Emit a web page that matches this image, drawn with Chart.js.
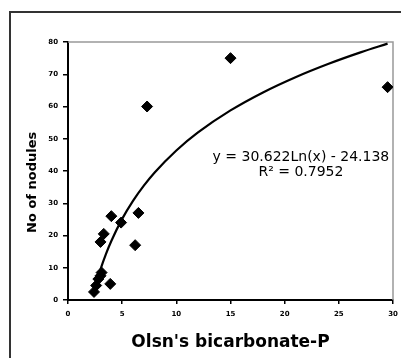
<!DOCTYPE html>
<html>
<head>
<meta charset="utf-8">
<script src="https://cdn.jsdelivr.net/npm/chart.js@4"></script>
<style>
  html, body { margin: 0; padding: 0; background: #fff; }
  canvas { display: block; }
</style>
</head>
<body>
<canvas id="chart" width="401" height="358"></canvas>
<script>
// measured points (Olsen P vs nodule count)
const olsenP = [2.4, 2.6, 2.8, 3.0, 3.1, 3.9, 3.0, 3.3, 6.2, 4.9, 4.0, 6.5, 7.3, 15.0, 29.5];
const nodules = [2.5, 4.5, 6.5, 7.5, 8.5, 5, 18, 20.5, 17, 24, 26, 27, 60, 75, 66];

// log trendline
const trendX = [2.3, 2.5, 3, 3.5, 4, 5, 6, 7, 8, 10, 12, 15, 18, 21, 24, 27, 29.5];
const trendY = [1.37, 3.92, 9.5, 14.23, 18.31, 25.15, 30.73, 35.45, 39.54, 46.37, 51.96, 58.79, 64.37, 69.09, 73.18, 76.79, 79.5];

const xTicks = [0, 5, 10, 15, 20, 25, 30];
const yTicks = [0, 10, 20, 30, 40, 50, 60, 70, 80];

const equationLines = ["y = 30.622Ln(x) - 24.138", "R\u00b2 = 0.7952"];
const equationAt = { x: 21.5, y: [44.3, 39.6] };

const tickFont = { family: "DejaVu Sans", size: 7, weight: "bold" };

// outer chart frame + grey plot-area border (top/right)
const framePlugin = {
  id: "frame",
  beforeDatasetsDraw(chart) {
    const { ctx, chartArea } = chart;
    ctx.save();
    ctx.strokeStyle = "#333";
    ctx.lineWidth = 2;
    ctx.beginPath();
    ctx.moveTo(10, chart.height);
    ctx.lineTo(10, 12);
    ctx.lineTo(chart.width, 12);
    ctx.stroke();

    ctx.strokeStyle = "#999";
    ctx.lineWidth = 1.5;
    ctx.beginPath();
    ctx.moveTo(chartArea.left, chartArea.top);
    ctx.lineTo(chartArea.right, chartArea.top);
    ctx.lineTo(chartArea.right, chartArea.bottom);
    ctx.stroke();
    ctx.restore();
  }
};

const equationPlugin = {
  id: "equation",
  afterDatasetsDraw(chart) {
    const { ctx, scales } = chart;
    ctx.save();
    ctx.font = "14px 'DejaVu Sans'";
    ctx.fillStyle = "#000";
    ctx.textAlign = "center";
    ctx.textBaseline = "middle";
    equationLines.forEach((line, i) => {
      ctx.fillText(line, scales.x.getPixelForValue(equationAt.x), scales.y.getPixelForValue(equationAt.y[i]));
    });
    ctx.restore();
  }
};

new Chart(document.getElementById("chart"), {
  type: "scatter",
  data: {
    datasets: [
      {
        label: "Nodules",
        data: olsenP.map((x, i) => ({ x: x, y: nodules[i] })),
        pointStyle: "rectRot",
        pointRadius: 5.5,
        backgroundColor: "#000",
        borderColor: "#000",
        borderWidth: 1,
      },
      {
        label: "Log trend",
        data: trendX.map((x, i) => ({ x: x, y: trendY[i] })),
        showLine: true,
        pointRadius: 0,
        borderColor: "#000",
        borderWidth: 2.2,
        cubicInterpolationMode: "monotone",
      },
    ],
  },
  options: {
    responsive: false,
    animation: false,
    layout: { padding: { top: 42, right: 8, left: 0, bottom: 0 } },
    plugins: {
      legend: { display: false },
      tooltip: { enabled: false },
    },
    scales: {
      x: {
        type: "linear",
        min: 0,
        max: 30,
        afterBuildTicks: (s) => { s.ticks = xTicks.map((v) => ({ value: v })); },
        afterFit: (s) => {
          s.height = 58;
          s.paddingLeft = 0;
          s.paddingRight = 0;
        },
        border: { display: true, color: "#000", width: 2 },
        grid: { drawOnChartArea: false, drawTicks: true, tickLength: 4, color: "#000", lineWidth: 1.5 },
        ticks: { color: "#000", font: tickFont, padding: 6, maxRotation: 0 },
        title: {
          display: true,
          text: "Olsn's bicarbonate-P",
          color: "#000",
          font: { family: "DejaVu Sans", size: 17, weight: "bold" },
          padding: { top: 0, bottom: 5 },
        },
      },
      y: {
        type: "linear",
        min: 0,
        max: 80,
        afterBuildTicks: (s) => { s.ticks = yTicks.map((v) => ({ value: v })); },
        afterFit: (s) => {
          s.width = 68;
          s.paddingTop = 0;
          s.paddingBottom = 0;
        },
        border: { display: true, color: "#000", width: 2 },
        grid: { drawOnChartArea: false, drawTicks: true, tickLength: 5, color: "#000", lineWidth: 1.5 },
        ticks: { color: "#000", font: tickFont, padding: 5 },
        title: {
          display: true,
          // trailing spaces nudge the label down, like the original
          text: "No of nodules\u00a0\u00a0\u00a0\u00a0\u00a0",
          color: "#000",
          font: { family: "DejaVu Sans", size: 13, weight: "bold" },
          padding: { top: 25, bottom: 0 },
        },
      },
    },
  },
  plugins: [framePlugin, equationPlugin],
});
</script>
</body>
</html>
